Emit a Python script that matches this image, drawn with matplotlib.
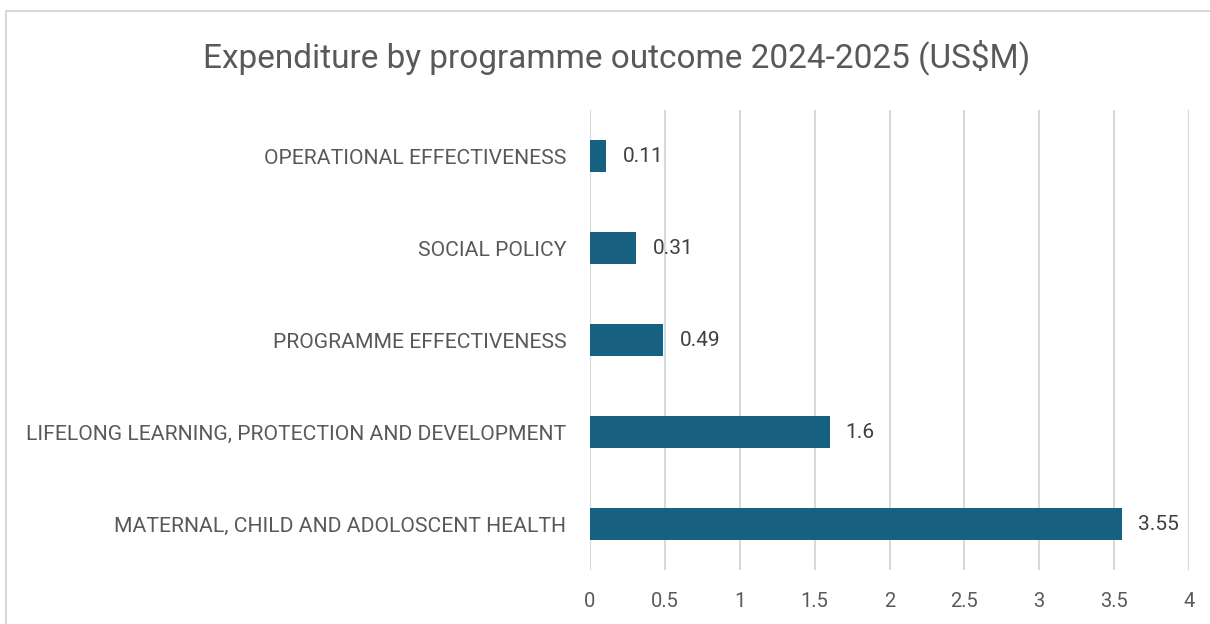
import matplotlib
matplotlib.use("Agg")
import matplotlib.pyplot as plt
from matplotlib.patches import Rectangle

categories = [
    "MATERNAL, CHILD AND ADOLOSCENT HEALTH",
    "LIFELONG LEARNING, PROTECTION AND DEVELOPMENT",
    "PROGRAMME EFFECTIVENESS",
    "SOCIAL POLICY",
    "OPERATIONAL EFFECTIVENESS",
]
values = [3.55, 1.6, 0.49, 0.31, 0.11]
value_labels = ["3.55", "1.6", "0.49", "0.31", "0.11"]
xticks = [0, 0.5, 1, 1.5, 2, 2.5, 3, 3.5, 4]
xtick_labels = ["0", "0.5", "1", "1.5", "2", "2.5", "3", "3.5", "4"]
title = "Expenditure by programme outcome 2024-2025 (US$M)"

plt.rcParams['font.family'] = ['Roboto', 'DejaVu Sans']
grey = '#595959'
bar_color = '#17607f'

fig = plt.figure(figsize=(12.1, 6.24), dpi=100)
fig.patch.set_facecolor('white')
fig.patches.append(Rectangle((6/1210, -0.1), 1.1, 1 - 11/624 + 0.1,
                             transform=fig.transFigure, fill=False,
                             edgecolor='#d9d9d9', linewidth=1.5))

ax = fig.add_axes([590/1210, 1 - 570/624, (1189 - 590)/1210, (570 - 110)/624])
y = list(range(len(categories)))
ax.barh(y, values, height=0.35, color=bar_color, zorder=3)
ax.set_xlim(0, 4)
ax.set_ylim(-0.5, len(categories) - 0.5)
ax.set_xticks(xticks)
ax.set_xticklabels(xtick_labels, fontsize=14.5, color=grey)
ax.set_yticks(y)
ax.set_yticklabels(categories, fontsize=15.2, color=grey)
ax.tick_params(axis='both', length=0)
ax.tick_params(axis='x', pad=16)
ax.tick_params(axis='y', pad=17)
ax.grid(axis='x', color='#d9d9d9', linewidth=1.5, zorder=0)
for s in ax.spines.values():
    s.set_visible(False)
for yi, v, lab in zip(y, values, value_labels):
    ax.annotate(lab, (v, yi), xytext=(16, 0), textcoords='offset pixels',
                ha='left', va='center', fontsize=15, color='#404040')

fig.text(617/1210, 1 - 57/624, title, ha='center', va='center', fontsize=24, color=grey)

fig.savefig('out.png', dpi=100)
